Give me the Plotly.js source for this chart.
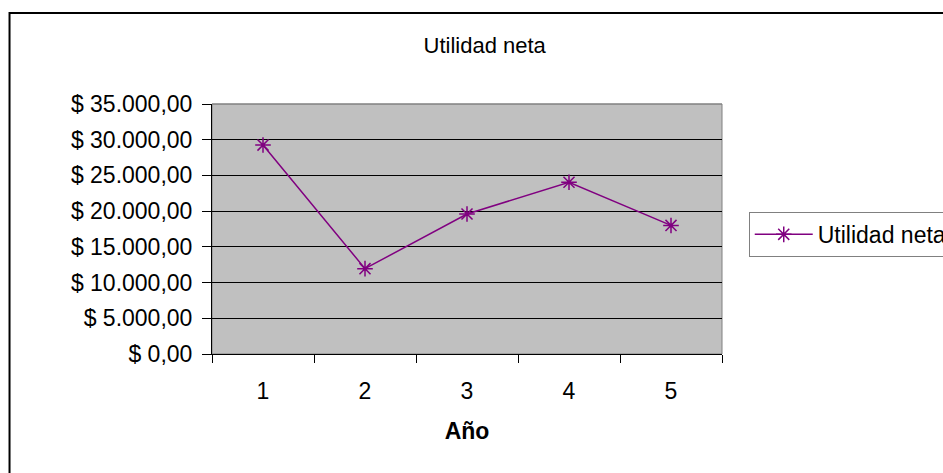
<!DOCTYPE html>
<html>
<head>
<meta charset="utf-8">
<script src="https://cdn.plot.ly/plotly-3.0.1.min.js"></script>
<style>html,body{margin:0;padding:0;background:#fff;}#chart{width:943px;height:473px;}</style>
</head>
<body>
<div id="chart"></div>
<script>
const years = ['1', '2', '3', '4', '5'];
const utilidadNeta = [29250, 11950, 19600, 24050, 18000];
const seriesName = 'Utilidad neta';
const chartTitle = 'Utilidad neta';
const xTitle = 'Año';

const font = 'Liberation Sans, Arial, sans-serif';

const trace = {
  x: years,
  y: utilidadNeta,
  name: seriesName,
  type: 'scatter',
  mode: 'lines+markers',
  line: {color: '#800080', width: 1.5},
  marker: {symbol: 'asterisk-open', size: 13, color: '#800080', line: {color: '#800080', width: 1.5}}
};

const layout = {
  width: 943,
  height: 473,
  margin: {l: 212, r: 221, t: 104, b: 119, autoexpand: false},
  paper_bgcolor: '#ffffff',
  plot_bgcolor: '#c0c0c0',
  separators: ',.',
  font: {family: font, color: '#000', size: 20},
  title: {text: chartTitle, font: {family: font, size: 22, color: '#000'}, x: 0.514, xanchor: 'center', y: 0.905, yanchor: 'middle'},
  showlegend: true,
  legend: {
    xref: 'container', yref: 'container',
    x: 0.794, y: 0.552, xanchor: 'left', yanchor: 'top',
    bgcolor: '#ffffff', bordercolor: '#808080', borderwidth: 1,
    itemwidth: 58,
    font: {family: font, size: 23, color: '#000'}
  },
  xaxis: {
    type: 'category',
    range: [-0.5, 4.5],
    tickson: 'boundaries',
    ticks: 'outside', ticklen: 8, tickcolor: '#000', tickwidth: 1,
    showline: true, linecolor: '#000', linewidth: 1,
    showgrid: false, zeroline: false,
    tickfont: {family: font, size: 23, color: '#000'},
    ticklabelstandoff: 16,
    title: {text: xTitle, font: {family: font, size: 23, color: '#000', weight: 'bold'}, standoff: 20}
  },
  yaxis: {
    range: [0, 35000],
    dtick: 5000,
    tick0: 0,
    tickformat: ',.2f',
    tickprefix: '$ ',
    ticks: 'outside', ticklen: 9, tickcolor: '#000', tickwidth: 1,
    showline: true, linecolor: '#000', linewidth: 1,
    showgrid: true, gridcolor: '#000', gridwidth: 1,
    zeroline: false,
    tickfont: {family: font, size: 23, color: '#000'},
    ticklabelstandoff: 5
  },
  shapes: [
    {type: 'rect', xref: 'paper', yref: 'paper', x0: 0, x1: 1, y0: 0, y1: 1,
     line: {color: '#808080', width: 1}, layer: 'below'},
    {type: 'line', xref: 'paper', yref: 'paper', x0: 0, x1: 1, y0: 1, y1: 1,
     line: {color: '#808080', width: 1}, layer: 'above'},
    {type: 'rect', xref: 'paper', yref: 'paper', x0: -0.397, x1: 1.46, y0: -0.52, y1: 1.364,
     line: {color: '#000', width: 2}, layer: 'below'}
  ]
};

Plotly.newPlot('chart', [trace], layout, {displayModeBar: false, staticPlot: true});
</script>
</body>
</html>
